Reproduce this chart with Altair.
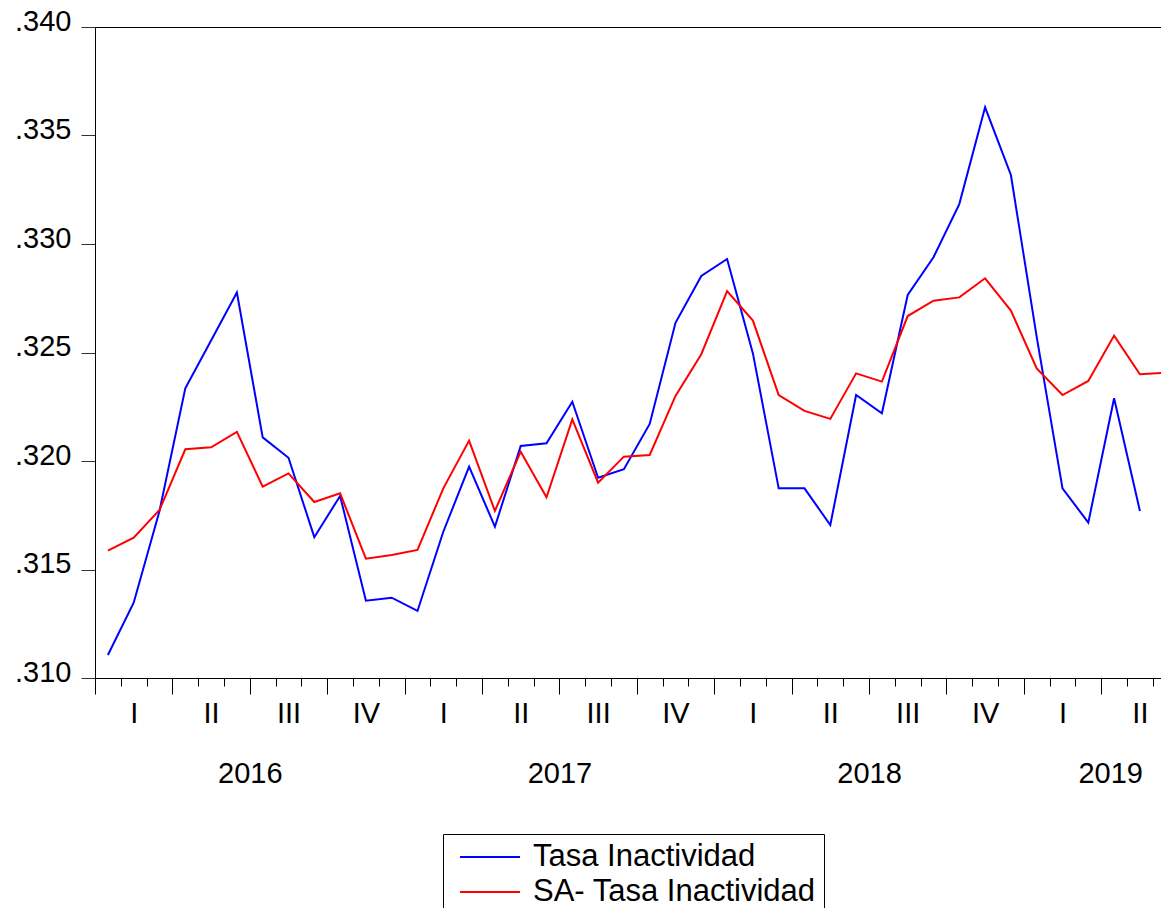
import altair as alt
import pandas as pd

FONT = "Liberation Sans, Arial, sans-serif"

series_names = ["Tasa Inactividad", "SA- Tasa Inactividad"]
series_colors = ["#0000ff", "#ff0000"]

# monthly values, Jan 2016 onwards
tasa = [0.31106, 0.31347, 0.3177, 0.32335, 0.32555, 0.32776, 0.32109, 0.32015,
        0.31649, 0.31839, 0.31356, 0.31370, 0.31309, 0.31674, 0.31974, 0.31697,
        0.32069, 0.32082, 0.32273, 0.31923, 0.31962, 0.32171, 0.32637, 0.32853,
        0.32931, 0.32496, 0.31874, 0.31874, 0.31705, 0.32304, 0.32220, 0.32765,
        0.32939, 0.33184, 0.33630, 0.33318, 0.32572, 0.31874, 0.31716, 0.32289,
        0.31770]
sa_tasa = [0.31587, 0.31647, 0.31774, 0.32054, 0.32063, 0.32134, 0.31882, 0.31943,
           0.31811, 0.31851, 0.31550, 0.31567, 0.31590, 0.31874, 0.32094, 0.31770,
           0.32043, 0.31833, 0.32192, 0.31900, 0.32020, 0.32028, 0.32300, 0.32492,
           0.32783, 0.32647, 0.32304, 0.32231, 0.32194, 0.32404, 0.32366, 0.32668,
           0.32739, 0.32754, 0.32842, 0.32693, 0.32427, 0.32304, 0.32369, 0.32578,
           0.32400, 0.32407]

y_ticks = [0.310, 0.315, 0.320, 0.325, 0.330, 0.335, 0.340]
quarter_names = ["I", "II", "III", "IV"]
year_labels = ["2016", "2017", "2018", "2019"]
year_label_pos = [6, 18, 30, 39.35]

PLOT_W = 1066
MONTH_PX = 25.8
x_end = PLOT_W / MONTH_PX

rows = []
for name, vals in zip(series_names, [tasa, sa_tasa]):
    for i, v in enumerate(vals):
        rows.append({"series": name, "t": i + 0.5, "value": v})
df = pd.DataFrame(rows)

month_ticks = list(range(0, 42))
quarter_ticks = list(range(0, 42, 3))
quarter_mid = [q + 1.5 for q in quarter_ticks]

x_scale = alt.Scale(domain=[0, x_end], nice=False, zero=False)
y_scale = alt.Scale(domain=[0.310, 0.340], nice=False, zero=False)

q_expr = "[" + ",".join("'%s'" % q for q in quarter_names) + "][floor(datum.value / 3) % 4]"
y_expr = ("[" + ",".join("'%s'" % y for y in year_labels) + "][indexof(["
          + ",".join(str(p) for p in year_label_pos) + "], datum.value)]")

color_enc = alt.Color(
    "series:N",
    scale=alt.Scale(domain=series_names, range=series_colors),
    legend=alt.Legend(
        orient="none", legendX=348, legendY=807, direction="vertical",
        title=None, padding=8, strokeColor="black", fillColor="white",
        symbolType="stroke", symbolSize=3600, symbolStrokeWidth=2,
        symbolOffset=8, clipHeight=30, rowPadding=4,
        labelFont=FONT, labelFontSize=31, labelColor="black",
        labelOffset=12, labelLimit=500,
    ),
)

y_axis_main = alt.Axis(
    orient="left",
    values=y_ticks, labelExpr="replace(format(datum.value, '.3f'), '0.', '.')",
    tickSize=14, tickColor="#333333", tickWidth=1, labelPadding=10,
    labelFont=FONT, labelFontSize=29, labelColor="black", labelOffset=-6,
    labelFlush=False, labelOverlap=False, ticks=True, labels=True,
    domain=True, domainColor="black", domainWidth=1, grid=False, title=None,
)

x_minor = alt.Axis(orient="bottom", values=month_ticks, tickSize=8, tickColor="black",
                   tickWidth=1, labels=False, domain=True, domainColor="black",
                   domainWidth=1, grid=False, title=None)
x_major = alt.Axis(orient="bottom", values=quarter_ticks, tickSize=16, tickColor="black",
                   tickWidth=1, labels=False, domain=False, grid=False, title=None)
x_quarters = alt.Axis(orient="bottom", values=quarter_mid, labelExpr=q_expr, ticks=False,
                      domain=False, grid=False, title=None, labelPadding=21,
                      labelFont=FONT, labelFontSize=29, labelColor="black",
                      labelFlush=False, labelOverlap=False)
x_years = alt.Axis(orient="bottom", values=year_label_pos, labelExpr=y_expr, ticks=False,
                   domain=False, grid=False, title=None, labelPadding=81,
                   labelFont=FONT, labelFontSize=29, labelColor="black",
                   labelFlush=False, labelOverlap=False)
x_top = alt.Axis(orient="top", labels=False, ticks=False, domain=True, domainColor="black",
                 domainWidth=1, grid=False, title=None)

blue = alt.Chart(df).transform_filter(alt.datum.series == series_names[0]).mark_line(
    strokeWidth=2).encode(
    x=alt.X("t:Q", scale=x_scale, axis=x_minor),
    y=alt.Y("value:Q", scale=y_scale, axis=y_axis_main),
    color=color_enc,
)
red = alt.Chart(df).transform_filter(alt.datum.series == series_names[1]).mark_line(
    strokeWidth=2).encode(
    x=alt.X("t:Q", scale=x_scale, axis=x_major),
    y=alt.Y("value:Q", scale=y_scale, axis=None),
    color=color_enc,
)


def helper(axis):
    return alt.Chart(df).mark_point(opacity=0).encode(
        x=alt.X("t:Q", scale=x_scale, axis=axis),
        y=alt.Y("value:Q", scale=y_scale, axis=None),
    )


chart = alt.layer(
    blue, red, helper(x_quarters), helper(x_years), helper(x_top)
).resolve_axis(x="independent", y="independent").properties(
    width=PLOT_W, height=651,
    autosize=alt.AutoSizeParams(type="none"),
    padding={"left": 87, "top": 19, "right": 0, "bottom": 230},
    background="white",
).configure_view(strokeWidth=0)

chart.save("out.html", embed_options={"renderer": "svg", "actions": False})
